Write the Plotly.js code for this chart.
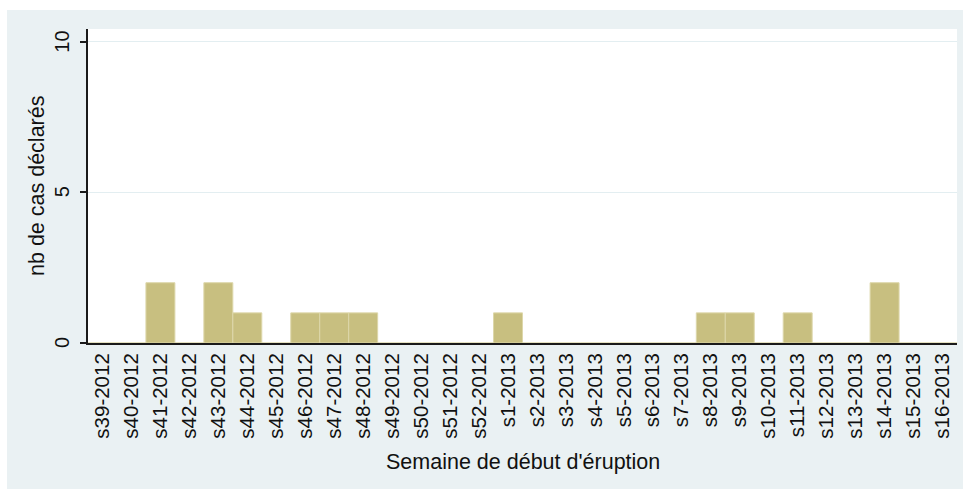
<!DOCTYPE html>
<html>
<head>
<meta charset="utf-8">
<script src="https://cdn.plot.ly/plotly-3.0.1.min.js"></script>
<style>
html,body{margin:0;padding:0;background:#ffffff;width:964px;height:489px;overflow:hidden;}
#chart{position:absolute;left:7px;top:10px;width:956px;height:479px;}
</style>
</head>
<body>
<div id="chart"></div>
<script>
const weeks = ["s39-2012","s40-2012","s41-2012","s42-2012","s43-2012","s44-2012","s45-2012","s46-2012","s47-2012","s48-2012","s49-2012","s50-2012","s51-2012","s52-2012","s1-2013","s2-2013","s3-2013","s4-2013","s5-2013","s6-2013","s7-2013","s8-2013","s9-2013","s10-2013","s11-2013","s12-2013","s13-2013","s14-2013","s15-2013","s16-2013"];
const cases = [0,0,2,0,2,1,0,1,1,1,0,0,0,0,1,0,0,0,0,0,0,1,1,0,1,0,0,2,0,0];
const yTicks = [0,5,10];
const xTitle = "Semaine de début d'éruption";
const yTitle = "nb de cas déclarés";

const FONT = "Liberation Sans, Arial, sans-serif";
const trace = {
  type: 'bar',
  x: weeks,
  y: cases,
  marker: {color: '#C8BF80', line: {color: '#DDD7AA', width: 1}},
  hoverinfo: 'x+y'
};
const yTickAnnotations = yTicks.map(v => ({
  text: String(v), xref: 'paper', yref: 'y', x: 0, y: v, xshift: -26,
  xanchor: 'center', yanchor: 'middle', textangle: -90, showarrow: false,
  font: {family: FONT, size: 20, color: '#111'}
}));
const layout = {
  width: 956, height: 479,
  margin: {l: 81, r: 6, t: 19, b: 146},
  paper_bgcolor: '#EAF1F3',
  plot_bgcolor: '#FFFFFF',
  bargap: 0,
  showlegend: false,
  font: {family: FONT, size: 20, color: '#000'},
  xaxis: {
    type: 'category', categoryorder: 'array', categoryarray: weeks,
    range: [-0.5, weeks.length - 0.5],
    showline: true, linecolor: '#1a1a1a', linewidth: 2,
    ticks: '', showgrid: false, zeroline: false,
    tickangle: -90, tickfont: {family: FONT, size: 20.5, color: '#111'}
  },
  yaxis: {
    range: [0, 10.42],
    tickvals: yTicks, showticklabels: false,
    showline: true, linecolor: '#1a1a1a', linewidth: 2,
    ticks: 'outside', ticklen: 6, tickwidth: 2, tickcolor: '#1a1a1a',
    showgrid: true, gridcolor: '#E3EEF1', gridwidth: 1, zeroline: false
  },
  annotations: [
    {text: xTitle, xref: 'paper', yref: 'paper', x: 0.5, y: 0, yshift: -119,
     xanchor: 'center', yanchor: 'middle', showarrow: false,
     font: {family: FONT, size: 21.5, color: '#111'}},
    {text: yTitle, xref: 'paper', yref: 'paper', x: 0, y: 0.5, xshift: -51,
     xanchor: 'center', yanchor: 'middle', textangle: -90, showarrow: false,
     font: {family: FONT, size: 21.5, color: '#111'}}
  ].concat(yTickAnnotations)
};
Plotly.newPlot('chart', [trace], layout, {displayModeBar: false, staticPlot: true});
</script>
</body>
</html>
